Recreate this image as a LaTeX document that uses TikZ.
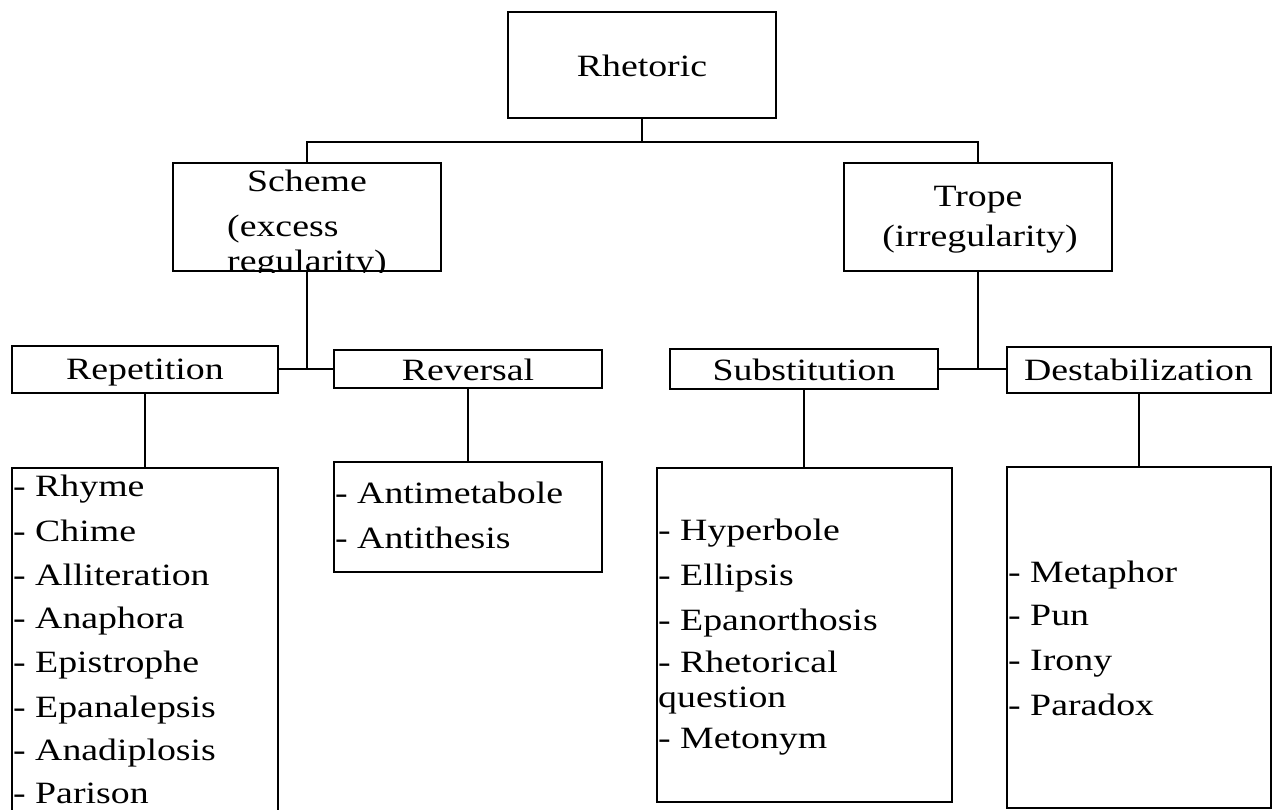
\documentclass[tikz,border=0pt]{standalone}
\usepackage{fontspec}
\setmainfont{Liberation Serif}[FakeStretch=1.22]
\begin{document}
\begin{tikzpicture}[x=1pt,y=-1pt]
\tikzset{
  box/.style={draw, line width=2.8pt, inner sep=0pt, fill=white},
  txt/.style={inner sep=0pt, anchor=base, font=\fontsize{31}{37}\selectfont},
  item/.style={inner sep=0pt, anchor=base west, font=\fontsize{31}{37}\selectfont},
  link/.style={line width=2.8pt}
}
\useasboundingbox[fill=white] (0,0) rectangle (1272,810);
% boxes
\node[box, minimum width=268pt, minimum height=106pt] (rhet) at (642,65) {};
\node[box, minimum width=268pt, minimum height=108pt] (scheme) at (307,217) {};
\node[box, minimum width=268pt, minimum height=108pt] (trope) at (978,217) {};
\node[box, minimum width=266pt, minimum height=47pt] (rep) at (145,369.5) {};
\node[box, minimum width=268pt, minimum height=38pt] (rev) at (468,369) {};
\node[box, minimum width=268pt, minimum height=40pt] (sub) at (804,369) {};
\node[box, minimum width=264pt, minimum height=46pt] (des) at (1139,370) {};
\node[box, minimum width=266pt, minimum height=372pt] (repL) at (145,654) {};
\node[box, minimum width=268pt, minimum height=110pt] (revL) at (468,517) {};
\node[box, minimum width=295pt, minimum height=334pt] (subL) at (804.5,635) {};
\node[box, minimum width=264pt, minimum height=341pt] (desL) at (1139,637.5) {};
% connectors
\coordinate (bus) at (642,142);
\coordinate (sj) at (307,369);
\coordinate (tj) at (978,369);
\draw[link] (rhet.south) -- (bus);
\draw[link] (scheme.north) |- (bus) -| (trope.north);
\draw[link] (scheme.south) -- (sj);
\draw[link] (rep.east |- sj) -- (rev.west |- sj);
\draw[link] (trope.south) -- (tj);
\draw[link] (sub.east |- tj) -- (des.west |- tj);
\draw[link] (rep.south) -- (rep.south |- repL.north);
\draw[link] (rev.south) -- (rev.south |- revL.north);
\draw[link] (sub.south) -- (sub.south |- subL.north);
\draw[link] (des.south) -- (des.south |- desL.north);
% texts
\node[txt] (tRhet) at (642,77) {Rhetoric};
\node[txt] (tScheme) at (307,192) {Scheme};
\node[item] (tExcess) at (227,237) {(excess};
\begin{scope}
\clip (scheme.south west) rectangle (scheme.north east);
\node[item] (tRegul) at (227,272) {regularity)};
\end{scope}
\node[txt] (tTrope) at (978,207) {Trope};
\node[txt] (tIrreg) at (980,247) {(irregularity)};
\node[txt] (tRep) at (145,379) {Repetition};
\node[txt] (tRev) at (468,380) {Reversal};
\node[txt] (tSub) at (804,380) {Substitution};
\node[txt] (tDes) at (1138.5,380) {Destabilization};
\foreach \y/\t [count=\i] in {496/Rhyme,541/Chime,585/Alliteration,628/Anaphora,672/Epistrophe,717/Epanalepsis,760/Anadiplosis,803/Parison}
  \node[item] (rl\i) at (13,\y) {- \t};
\foreach \y/\t [count=\i] in {503/Antimetabole,548/Antithesis}
  \node[item] (vl\i) at (335,\y) {- \t};
\foreach \y/\t [count=\i] in {540/- Hyperbole,585/- Ellipsis,630/- Epanorthosis,672/- Rhetorical,707/question,748/- Metonym}
  \node[item] (sl\i) at (658,\y) {\t};
\foreach \y/\t [count=\i] in {582/Metaphor,625/Pun,670/Irony,715/Paradox}
  \node[item] (dl\i) at (1008,\y) {- \t};
\end{tikzpicture}
\end{document}
